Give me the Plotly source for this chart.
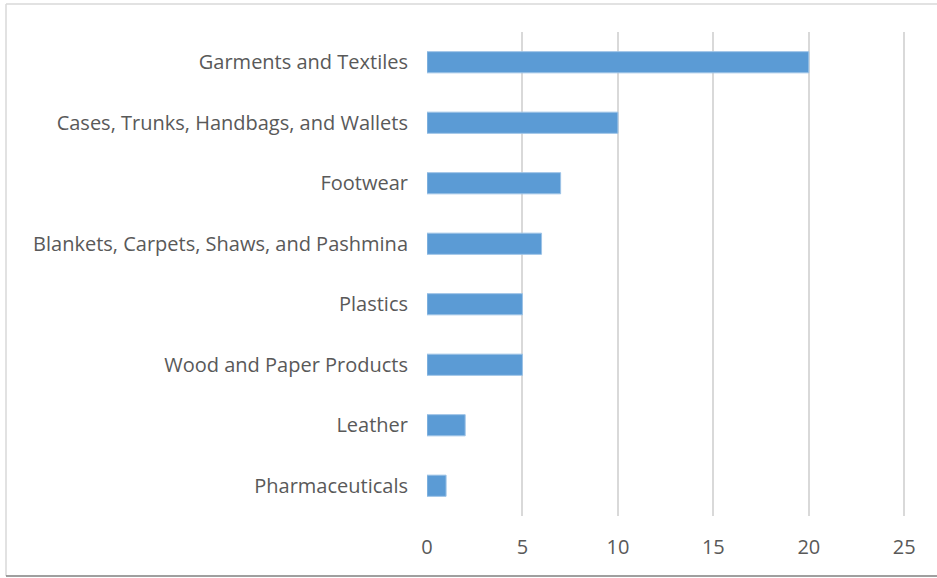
import plotly.graph_objects as go

# Product groups, listed top to bottom
categories = [
    "Garments and Textiles",
    "Cases, Trunks, Handbags, and Wallets",
    "Footwear",
    "Blankets, Carpets, Shaws, and Pashmina",
    "Plastics",
    "Wood and Paper Products",
    "Leather",
    "Pharmaceuticals",
]
values = [20, 10, 7, 6, 5, 5, 2, 1]
x_ticks = [0, 5, 10, 15, 20, 25]

W, H = 937, 578
ML, MR, MT, MB = 427, 27, 32, 62
pw, ph = W - ML - MR, H - MT - MB

fig = go.Figure(
    go.Bar(
        x=values,
        y=categories,
        orientation="h",
        width=0.35,
        marker=dict(color="#5B9BD5", line=dict(color="#9DC3E6", width=1)),
        hoverinfo="x+y",
    )
)

label_font = dict(family="Open Sans, sans-serif", size=20, color="#595959")

fig.update_layout(
    width=W,
    height=H,
    margin=dict(l=ML, r=MR, t=MT, b=MB),
    paper_bgcolor="white",
    plot_bgcolor="white",
    showlegend=False,
    font=label_font,
    xaxis=dict(
        range=[0, 25.3],
        tickvals=x_ticks,
        showgrid=True,
        gridcolor="#D9D9D9",
        gridwidth=1.5,
        zeroline=False,
        showline=False,
        ticks="",
        ticklabelstandoff=17,
        tickfont=label_font,
    ),
    yaxis=dict(
        categoryorder="array",
        categoryarray=categories[::-1],
        showgrid=False,
        zeroline=False,
        showline=False,
        ticks="",
        ticklabelstandoff=18,
        tickfont=label_font,
    ),
)

# thin frame around the chart area
def px_x(px):
    return (px - ML) / pw

def px_y(py):
    return 1 - (py - MT) / ph

frame = [
    (6, 4, W + 5, 4, "#D9D9D9", 1.5),
    (6, 4, 6, 576, "#D9D9D9", 1.5),
    (6, 576, W + 5, 576, "#7F7F7F", 1.5),
]
for x0, y0, x1, y1, c, w in frame:
    fig.add_shape(
        type="line", xref="paper", yref="paper",
        x0=px_x(x0), y0=px_y(y0), x1=px_x(x1), y1=px_y(y1),
        line=dict(color=c, width=w), layer="above",
    )

fig.write_html("out.html")
